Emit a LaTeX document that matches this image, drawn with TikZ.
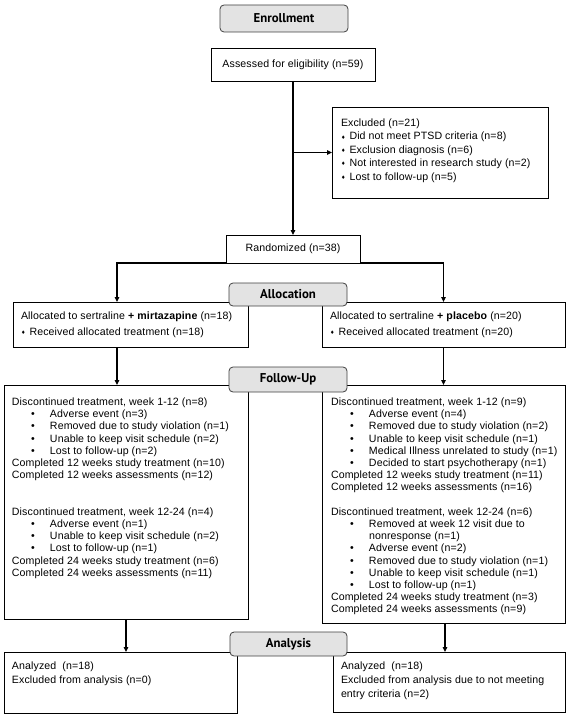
\documentclass[tikz,border=0pt]{standalone}
\usepackage{fontspec}
\setmainfont{Liberation Sans}[LetterSpace=1]
\newfontfamily\hdrfont{PT Sans}
\newfontfamily\dvfont{DejaVu Sans}
\usetikzlibrary{arrows.meta}
\newcommand\dmd{\makebox[8.5pt][l]{\dvfont\fontsize{5}{5}\selectfont\raisebox{0.8pt}{♦}}}
\newcommand\bul{\hspace*{19.2pt}\makebox[18.8pt][l]{•}}
\newcommand\cont{\hspace*{38pt}}
\newcommand\tb[1]{\parbox[t]{250pt}{\raggedright #1}}
\begin{document}
\begin{tikzpicture}[x=1pt,y=-1pt,
  box/.style={draw, line width=0.8pt, inner sep=0pt, outer sep=0pt, anchor=north west,
    font=\fontsize{10.6}{12.2}\selectfont},
  lbl/.style={draw=black!75, fill=black!11, rounded corners=4pt, line width=0.8pt,
    inner sep=0pt, outer sep=0pt, anchor=north west,
    font=\hdrfont\bfseries\fontsize{12.8}{14}\selectfont},
  txt/.style={anchor=base west, inner sep=0pt, outer sep=0pt,
    font=\fontsize{10.6}{12.2}\selectfont},
  txtA/.style={txt, font=\fontsize{10.6}{13.4}\selectfont},
  txtB/.style={txt, font=\fontsize{10.6}{16}\selectfont},
  txtC/.style={txt, font=\fontsize{10.6}{14}\selectfont},
  arr/.style={line width=1.2pt, -{Triangle[length=5pt,width=4.5pt]}}]
\fill[white] (0,0) rectangle (570,714);
\useasboundingbox (0,0) rectangle (570,714);

% boxes
\node[box, minimum width=164pt, minimum height=33pt] (assess) at (211,48) {Assessed for eligibility (n=59)};
\node[box, minimum width=216pt, minimum height=91pt] (excl) at (332,107) {};
\node[box, minimum width=134pt, minimum height=28pt] (rand) at (226,235) {Randomized (n=38)};
\node[box, minimum width=235pt, minimum height=45pt] (allocL) at (13,302) {};
\node[box, minimum width=243pt, minimum height=45pt] (allocR) at (322,302) {};
\node[box, minimum width=244pt, minimum height=234pt] (fuL) at (4,385) {};
\node[box, minimum width=243pt, minimum height=238pt] (fuR) at (322,385) {};
\node[box, minimum width=233pt, minimum height=61pt] (anL) at (4,652) {};
\node[box, minimum width=232pt, minimum height=60pt] (anR) at (333,652) {};

% connectors
\draw[arr] (assess.south) -- (rand.north);
\coordinate (br) at (assess.south |- excl.west);
\draw[arr] (br) -- (excl.west);
\draw[arr] (rand.south west) -| ([xshift=-13.5pt]allocL.north);
\draw[arr] (rand.south east) -| (allocR.north);
\draw[arr] ([xshift=-13.5pt]allocL.south) -- ([xshift=-13.5pt]allocL.south |- fuL.north);
\draw[arr] (allocR.south) -- (fuR.north);
\draw[arr] (fuL.south) -- (fuL.south |- anL.north);
\draw[arr] ([xshift=1.5pt]fuR.south) -- ([xshift=1.5pt]fuR.south |- anR.north);

% phase labels
\node[lbl, minimum width=128pt, minimum height=27pt] (enroll) at (220,5) {Enrollment};
\node[lbl, minimum width=118pt, minimum height=23pt] (allocLbl) at (229,283) {Allocation};
\node[lbl, minimum width=118pt, minimum height=25pt] (fuLbl) at (229,367) {Follow-Up};
\node[lbl, minimum width=117pt, minimum height=24pt] (anLbl) at (230,632) {Analysis};

% texts
\node[txtA] (exclT) at (341,126.5) {\tb{Excluded (n=21)\\
\dmd Did not meet PTSD criteria (n=8)\\
\dmd Exclusion diagnosis (n=6)\\
\dmd Not interested in research study (n=2)\\
\dmd Lost to follow-up (n=5)}};

\node[txtB] (allocLT) at (21,319.5) {\tb{Allocated to sertraline \textbf{+ mirtazapine} (n=18)\\
\dmd Received allocated treatment (n=18)}};
\node[txtB] (allocRT) at (330,319.5) {\tb{Allocated to sertraline \textbf{+ placebo} (n=20)\\
\dmd Received allocated treatment (n=20)}};

\node[txt] (fuLT) at (12,405.5) {\tb{Discontinued treatment, week 1-12 (n=8)\\
\bul Adverse event (n=3)\\
\bul Removed due to study violation (n=1)\\
\bul Unable to keep visit schedule (n=2)\\
\bul Lost to follow-up (n=2)\\
Completed 12 weeks study treatment (n=10)\\
Completed 12 weeks assessments (n=12)\\[24.4pt]
Discontinued treatment, week 12-24 (n=4)\\
\bul Adverse event (n=1)\\
\bul Unable to keep visit schedule (n=2)\\
\bul Lost to follow-up (n=1)\\
Completed 24 weeks study treatment (n=6)\\
Completed 24 weeks assessments (n=11)}};

\node[txt] (fuRT) at (331,405.5) {\tb{Discontinued treatment, week 1-12 (n=9)\\
\bul Adverse event (n=4)\\
\bul Removed due to study violation (n=2)\\
\bul Unable to keep visit schedule (n=1)\\
\bul Medical Illness unrelated to study (n=1)\\
\bul Decided to start psychotherapy (n=1)\\
Completed 12 weeks study treatment (n=11)\\
Completed 12 weeks assessments (n=16)\\[12.2pt]
Discontinued treatment, week 12-24 (n=6)\\
\bul Removed at week 12 visit due to\\
\cont nonresponse (n=1)\\
\bul Adverse event (n=2)\\
\bul Removed due to study violation (n=1)\\
\bul Unable to keep visit schedule (n=1)\\
\bul Lost to follow-up (n=1)\\
Completed 24 weeks study treatment (n=3)\\
Completed 24 weeks assessments (n=9)}};

\node[txtC] (anLT) at (12,669.5) {\tb{Analyzed\ \ (n=18)\\
Excluded from analysis (n=0)}};
\node[txtC] (anRT) at (341,669.5) {\tb{Analyzed\ \ (n=18)\\
Excluded from analysis due to not meeting\\
entry criteria (n=2)}};
\end{tikzpicture}
\end{document}
